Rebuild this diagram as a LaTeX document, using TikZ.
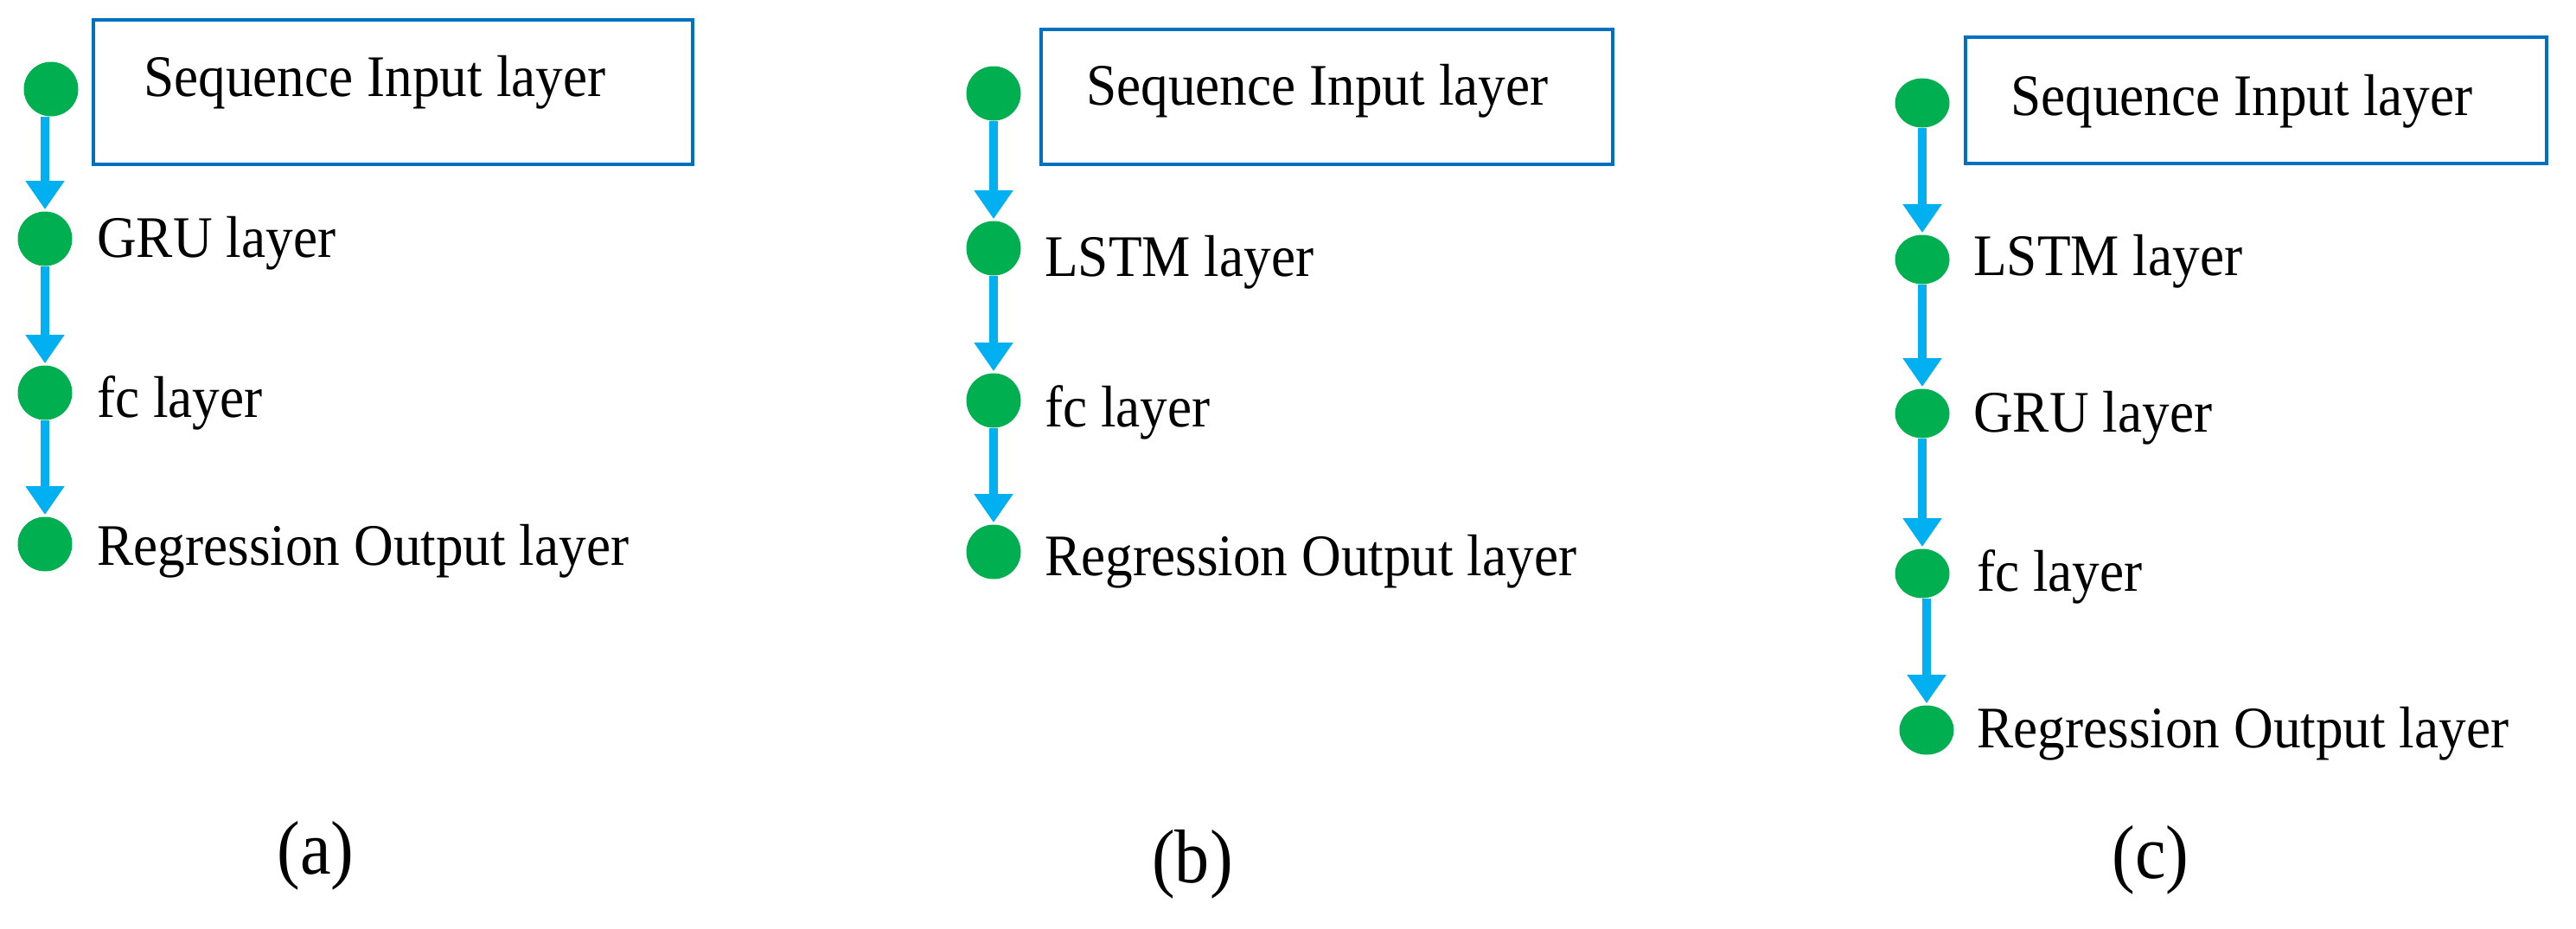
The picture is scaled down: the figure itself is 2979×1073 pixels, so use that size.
\documentclass[tikz,border=0pt]{standalone}
\usepackage{fontspec}
\usepackage{graphicx}
\setmainfont{Liberation Serif}
\usetikzlibrary{arrows.meta,shapes.geometric}
\definecolor{dotgreen}{HTML}{00B050}
\definecolor{arrblue}{HTML}{00B0F0}
\definecolor{boxblue}{HTML}{0070C0}
\newcommand{\lbltxt}[1]{\scalebox{0.93}[1]{\fontsize{48.4}{54}\selectfont #1}}
\newcommand{\captxt}[1]{\scalebox{0.91}[1]{\fontsize{62.6}{70}\selectfont #1}}
\tikzset{
  dotnode/.style={ellipse, fill=dotgreen, draw=none, minimum width=63*0.7113pt, minimum height=63*0.7113pt, inner sep=0pt},
  dotflat/.style={dotnode, minimum width=63*0.7113pt, minimum height=57*0.7113pt},
  flowarrow/.style={draw=arrblue, line width=7.1pt, -{Triangle[width=30.6pt,length=23.5pt]}, shorten >=1.5pt},
  inbox/.style={draw=boxblue, line width=3.5pt},
  layertext/.style={anchor=base west, inner sep=0pt, text=black},
  captext/.style={anchor=base, inner sep=0pt, text=black}
}
\begin{document}
\begin{tikzpicture}[x=0.25mm,y=-0.25mm]
\useasboundingbox (0,0) rectangle (2979,1073);
% ---------- (a) ----------
\draw[inbox] (108,23) rectangle (801,190);
\node[layertext] (aseqt) at (166,111) {\lbltxt{Sequence Input layer}};
\node[dotnode] (a1) at (59,103) {};
\node[dotnode] (a2) at (52,276) {};
\node[dotnode] (a3) at (52,454) {};
\node[dotnode] (a4) at (52,629) {};
\node[layertext] (a2t) at (112,297) {\lbltxt{GRU layer}};
\node[layertext] (a3t) at (112,482) {\lbltxt{fc layer}};
\node[layertext] (a4t) at (112,653) {\lbltxt{Regression Output layer}};
\draw[flowarrow] (a1.south -| a2) -- (a2);
\draw[flowarrow] (a2) -- (a3);
\draw[flowarrow] (a3) -- (a4);
\node[captext] (capa) at (365,1010) {\captxt{(a)}};
% ---------- (b) ----------
\draw[inbox] (1204,34) rectangle (1865,190);
\node[layertext] (bseqt) at (1256,121) {\lbltxt{Sequence Input layer}};
\node[dotnode] (b1) at (1149,108) {};
\node[dotnode] (b2) at (1149,287) {};
\node[dotnode] (b3) at (1149,463) {};
\node[dotnode] (b4) at (1149,638) {};
\node[layertext] (b2t) at (1208,319) {\lbltxt{LSTM layer}};
\node[layertext] (b3t) at (1208,493) {\lbltxt{fc layer}};
\node[layertext] (b4t) at (1208,665) {\lbltxt{Regression Output layer}};
\draw[flowarrow] (b1) -- (b2);
\draw[flowarrow] (b2) -- (b3);
\draw[flowarrow] (b3) -- (b4);
\node[captext] (capb) at (1379,1020) {\captxt{(b)}};
% ---------- (c) ----------
\draw[inbox] (2273,43) rectangle (2945,189);
\node[layertext] (cseqt) at (2325,133) {\lbltxt{Sequence Input layer}};
\node[dotflat] (c1) at (2223,119) {};
\node[dotflat] (c2) at (2223,300) {};
\node[dotflat] (c3) at (2223,478) {};
\node[dotflat] (c4) at (2223,663) {};
\node[dotflat] (c5) at (2228,844) {};
\node[layertext] (c2t) at (2282,318) {\lbltxt{LSTM layer}};
\node[layertext] (c3t) at (2282,499) {\lbltxt{GRU layer}};
\node[layertext] (c4t) at (2286,683) {\lbltxt{fc layer}};
\node[layertext] (c5t) at (2286,864) {\lbltxt{Regression Output layer}};
\draw[flowarrow] (c1) -- (c2);
\draw[flowarrow] (c2) -- (c3);
\draw[flowarrow] (c3) -- (c4);
\draw[flowarrow] (c4.south -| c5) -- (c5);
\node[captext] (capc) at (2487,1015) {\captxt{(c)}};
\end{tikzpicture}
\end{document}
